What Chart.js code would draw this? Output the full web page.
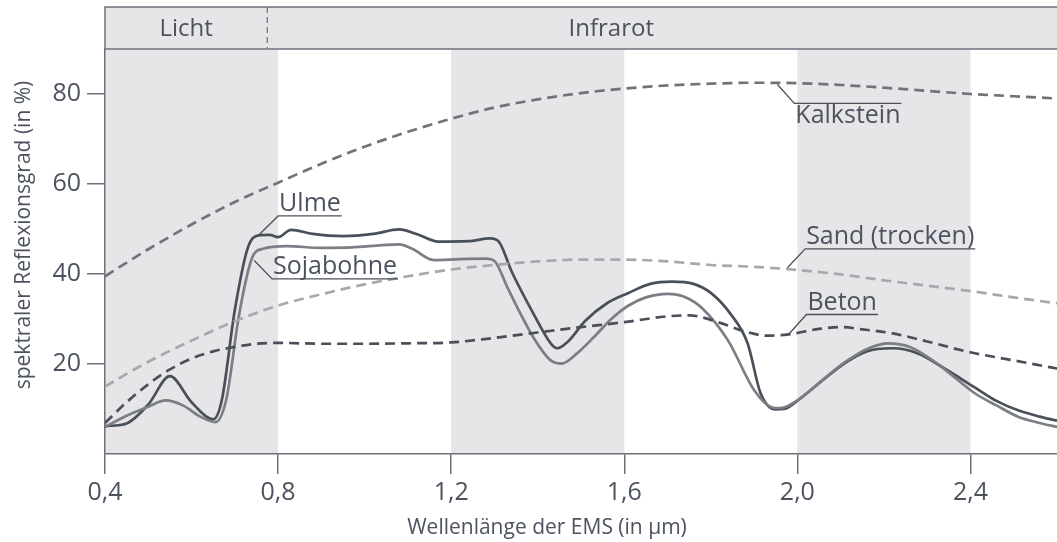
<!DOCTYPE html>
<html lang="de">
<head>
<meta charset="UTF-8">
<title>Spektraler Reflexionsgrad</title>
<script src="https://cdn.jsdelivr.net/npm/chart.js"></script>
<style>
  body { margin: 0; background: #fff; }
  #wrap { width: 1057px; height: 542px; }
</style>
</head>
<body>
<div id="wrap"><canvas id="chart" width="1057" height="542"></canvas></div>
<script>
// Wellenlänge (µm) und Reflexionsgrad (%) je Oberfläche
const ulmeX = [0.40, 0.45, 0.50, 0.55, 0.60, 0.65, 0.67, 0.70, 0.73, 0.755, 0.78, 0.80, 0.83, 0.88, 0.95, 1.02, 1.08, 1.12, 1.17, 1.24, 1.29, 1.31, 1.34, 1.39, 1.43, 1.445, 1.47, 1.51, 1.56, 1.61, 1.66, 1.71, 1.76, 1.80, 1.845, 1.885, 1.915, 1.95, 1.97, 2.01, 2.06, 2.11, 2.16, 2.22, 2.28, 2.34, 2.41, 2.46, 2.51, 2.56, 2.60];
const ulmeY = [6.2, 6.8, 11, 17.3, 11.5, 7.7, 12, 32, 45.8, 48.6, 48.7, 48.2, 49.8, 48.9, 48.4, 48.9, 49.9, 48.9, 47.2, 47.3, 47.9, 47.2, 40.5, 31.2, 24.6, 23.5, 25, 29.6, 33.5, 35.8, 37.8, 38.3, 37.8, 35.8, 31.2, 24.6, 13.5, 9.9, 10, 12.6, 16.5, 20.2, 22.8, 23.5, 22.3, 19, 14.8, 11.8, 9.7, 8.3, 7.4];

const sojaX = [0.40, 0.45, 0.50, 0.54, 0.58, 0.62, 0.655, 0.68, 0.71, 0.74, 0.765, 0.82, 0.90, 0.97, 1.04, 1.08, 1.11, 1.16, 1.22, 1.28, 1.30, 1.33, 1.36, 1.39, 1.43, 1.455, 1.49, 1.53, 1.57, 1.61, 1.65, 1.70, 1.74, 1.78, 1.84, 1.90, 1.94, 1.96, 2.01, 2.06, 2.11, 2.16, 2.21, 2.26, 2.31, 2.36, 2.41, 2.46, 2.51, 2.56, 2.60];
const sojaY = [6.0, 8.5, 10.5, 11.9, 10.8, 8.3, 7.1, 12, 31, 43.6, 45.6, 46.2, 45.8, 45.9, 46.4, 46.6, 45.6, 43.1, 43.3, 43.4, 42.9, 37, 31.2, 25.9, 20.8, 20.1, 22.3, 26, 30, 33, 34.8, 35.6, 34.9, 32.4, 25.2, 14.2, 10.4, 10.2, 12.6, 16.6, 20.4, 23.3, 24.6, 23.8, 21, 17.3, 13.5, 10.8, 8.3, 6.9, 6.0];

const kalkX = [0.40, 0.50, 0.60, 0.70, 0.80, 0.90, 1.00, 1.10, 1.20, 1.30, 1.40, 1.50, 1.60, 1.70, 1.80, 1.90, 2.00, 2.10, 2.20, 2.30, 2.40, 2.50, 2.60];
const kalkY = [39.5, 45.5, 51, 56, 60.3, 64.5, 68.3, 71.6, 74.5, 77, 78.8, 80.2, 81.2, 81.9, 82.3, 82.5, 82.4, 82.0, 81.4, 80.7, 80.0, 79.5, 79.0];

const sandX = [0.40, 0.50, 0.60, 0.70, 0.80, 0.90, 1.00, 1.10, 1.20, 1.30, 1.40, 1.50, 1.60, 1.70, 1.80, 1.90, 2.00, 2.10, 2.20, 2.30, 2.40, 2.50, 2.60];
const sandY = [15, 20.5, 25.2, 29.5, 33, 35.5, 37.7, 39.5, 41, 42, 42.8, 43.2, 43.2, 42.8, 42, 41.6, 40.9, 39.9, 38.6, 37.4, 36.2, 34.8, 33.5];

const betonX = [0.40, 0.45, 0.50, 0.55, 0.60, 0.65, 0.70, 0.75, 0.80, 0.90, 1.00, 1.10, 1.20, 1.30, 1.40, 1.50, 1.60, 1.70, 1.75, 1.82, 1.88, 1.93, 1.98, 2.05, 2.10, 2.15, 2.22, 2.30, 2.40, 2.50, 2.60];
const betonY = [6.9, 11.5, 15.5, 18.8, 21.2, 22.8, 23.8, 24.5, 24.7, 24.5, 24.5, 24.6, 24.8, 25.8, 27, 28.2, 29.3, 30.6, 30.8, 29.2, 27.2, 26.3, 26.6, 27.8, 28.2, 27.7, 26.8, 25, 22.6, 20.8, 19];

const xTicks = [0.4, 0.8, 1.2, 1.6, 2.0, 2.4];
const yTicks = [20, 40, 60, 80];
const bands = [[0.4, 0.8], [1.2, 1.6], [2.0, 2.4]];
const lichtGrenze = 0.775;

const textColor = '#4c535f';
const axisColor = '#6b7079';
const font = '"Open Sans", "DejaVu Sans", sans-serif';

function pts(xs, ys) {
  return xs.map((x, i) => ({ x: x, y: ys[i] }));
}

// Beschriftungen mit Hinweislinie (Datenkoordinaten)
const labels = [
  { text: 'Ulme', px: 0.755, py: 48.6, lx: 0.80, ly: 52.9, below: false },
  { text: 'Sojabohne', px: 0.745, py: 43.0, lx: 0.786, ly: 38.9, below: false },
  { text: 'Kalkstein', px: 1.954, py: 82.1, lx: 1.993, ly: 77.9, below: true },
  { text: 'Sand (trocken)', px: 1.977, py: 41.4, lx: 2.018, ly: 45.6, below: false },
  { text: 'Beton', px: 1.979, py: 26.5, lx: 2.021, ly: 31.0, below: false }
];

const bandPlugin = {
  id: 'bands',
  beforeDraw(chart) {
    const { ctx, chartArea: a, scales: { x } } = chart;
    ctx.save();
    ctx.fillStyle = '#e6e6e9';
    bands.forEach(b => {
      const x1 = x.getPixelForValue(b[0]);
      const x2 = x.getPixelForValue(b[1]);
      ctx.fillRect(x1, a.top + 1, x2 - x1, a.bottom - a.top - 1);
    });
    ctx.restore();
  }
};

const headerPlugin = {
  id: 'header',
  afterDraw(chart) {
    const { ctx, chartArea: a, scales: { x } } = chart;
    const top = 7;
    ctx.save();
    ctx.fillStyle = '#e6e6e9';
    ctx.fillRect(a.left, top, a.right - a.left, a.top - top);
    ctx.strokeStyle = axisColor;
    ctx.lineWidth = 1.5;
    ctx.beginPath();
    ctx.moveTo(a.right, top); ctx.lineTo(a.left, top); ctx.lineTo(a.left, a.top);
    ctx.moveTo(a.left, a.top); ctx.lineTo(a.right, a.top);
    ctx.stroke();
    const gx = x.getPixelForValue(lichtGrenze);
    ctx.setLineDash([6, 4]);
    ctx.lineWidth = 1.2;
    ctx.beginPath();
    ctx.moveTo(gx, top); ctx.lineTo(gx, a.top);
    ctx.stroke();
    ctx.setLineDash([]);
    ctx.fillStyle = textColor;
    ctx.font = '24px ' + font;
    ctx.textAlign = 'center';
    ctx.textBaseline = 'middle';
    const my = (top + a.top) / 2 + 1;
    ctx.fillText('Licht', (a.left + gx) / 2, my);
    ctx.fillText('Infrarot', x.getPixelForValue(1.57), my);

    // Achsentitel
    ctx.font = '21px ' + font;
    ctx.textBaseline = 'alphabetic';
    ctx.fillText('Wellenlänge der EMS (in µm)', 547, 534);
    ctx.save();
    ctx.translate(30, 235);
    ctx.rotate(-Math.PI / 2);
    ctx.fillText('spektraler Reflexionsgrad (in %)', 0, 0);
    ctx.restore();
    ctx.restore();
  }
};

const labelPlugin = {
  id: 'curveLabels',
  afterDatasetsDraw(chart) {
    const { ctx, scales: { x, y } } = chart;
    ctx.save();
    ctx.font = '25px ' + font;
    ctx.fillStyle = textColor;
    ctx.strokeStyle = '#4a505a';
    ctx.lineWidth = 1.3;
    labels.forEach(l => {
      const px = x.getPixelForValue(l.px), py = y.getPixelForValue(l.py);
      const lx = x.getPixelForValue(l.lx), ly = y.getPixelForValue(l.ly);
      const w = ctx.measureText(l.text).width;
      ctx.beginPath();
      ctx.moveTo(px, py); ctx.lineTo(lx, ly); ctx.lineTo(lx + w + 2, ly);
      ctx.stroke();
      ctx.textAlign = 'left';
      if (l.below) {
        ctx.textBaseline = 'top';
        ctx.fillText(l.text, lx + 1, ly);
      } else {
        ctx.textBaseline = 'alphabetic';
        ctx.fillText(l.text, lx + 1, ly - 5);
      }
    });
    ctx.restore();
  }
};

function ds(label, xs, ys, color, dashed, width) {
  return {
    label: label,
    data: pts(xs, ys),
    borderColor: color,
    borderWidth: width,
    borderDash: dashed ? [10, 6] : [],
    pointRadius: 0,
    fill: false,
    tension: 0.4,
    cubicInterpolationMode: 'monotone'
  };
}

new Chart(document.getElementById('chart'), {
  type: 'line',
  data: {
    datasets: [
      ds('Kalkstein', kalkX, kalkY, '#707379', true, 2.7),
      ds('Sand (trocken)', sandX, sandY, '#a6a8ac', true, 2.7),
      ds('Beton', betonX, betonY, '#4a505a', true, 2.7),
      ds('Sojabohne', sojaX, sojaY, '#7b7e84', false, 2.7),
      ds('Ulme', ulmeX, ulmeY, '#4a505a', false, 2.7)
    ]
  },
  options: {
    responsive: false,
    animation: false,
    layout: { padding: { top: 49, right: 0, left: 0, bottom: 0 } },
    plugins: { legend: { display: false }, tooltip: { enabled: false } },
    scales: {
      x: {
        type: 'linear',
        min: 0.4,
        max: 2.6,
        afterBuildTicks: s => { s.ticks = xTicks.map(v => ({ value: v })); },
        afterFit: s => { s.height = 88; },
        grid: { drawOnChartArea: false, drawTicks: true, tickLength: 20, color: axisColor, lineWidth: 1.5 },
        border: { display: true, color: axisColor, width: 1.5 },
        ticks: {
          color: textColor,
          font: { family: font, size: 25 },
          padding: 4,
          maxRotation: 0,
          callback: v => v.toFixed(1).replace('.', ',')
        }
      },
      y: {
        min: 0,
        max: 90,
        afterBuildTicks: s => { s.ticks = yTicks.map(v => ({ value: v })); },
        afterFit: s => { s.width = 105; },
        grid: { drawOnChartArea: false, drawTicks: true, tickLength: 18, color: axisColor, lineWidth: 1.5 },
        border: { display: true, color: axisColor, width: 1.5 },
        ticks: {
          color: textColor,
          font: { family: font, size: 25 },
          padding: 6
        }
      }
    }
  },
  plugins: [bandPlugin, headerPlugin, labelPlugin]
});
</script>
</body>
</html>
